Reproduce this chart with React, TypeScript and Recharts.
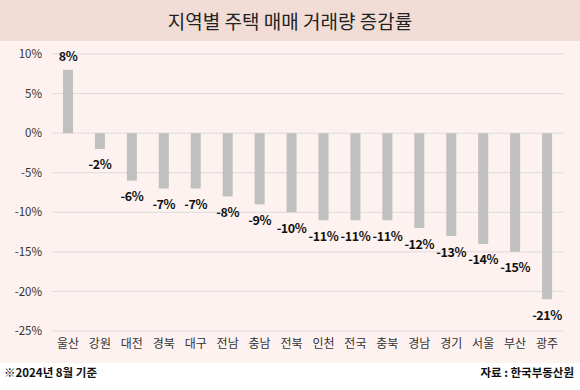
import React from "react";
import { BarChart, Bar, XAxis, YAxis, CartesianGrid, LabelList } from "recharts";

const regions = ["울산", "강원", "대전", "경북", "대구", "전남", "충남", "전북", "인천", "전국", "충북", "경남", "경기", "서울", "부산", "광주"];
const changes = [8, -2, -6, -7, -7, -8, -9, -10, -11, -11, -11, -12, -13, -14, -15, -21];
const yTicks = [10, 5, 0, -5, -10, -15, -20, -25];

const data = regions.map((name, i) => ({ name, value: changes[i] }));

const FONT = "'Noto Sans CJK KR', 'Noto Sans', sans-serif";

const ValueLabel = (props: any) => {
  const { x, y, width, height, value } = props;
  const top = Math.min(y, y + height);
  const bottom = Math.max(y, y + height);
  const cy = value >= 0 ? top - 14 : bottom + 15;
  return (
    <text
      x={x + width / 2}
      y={cy}
      textAnchor="middle"
      dominantBaseline="central"
      fontSize={12.5}
      fontWeight={700}
      letterSpacing={-0.4}
      fill="#111"
      fontFamily={FONT}
    >
      {value}%
    </text>
  );
};

export default function App() {
  return (
    <div style={{ position: "absolute", left: 0, top: 0, width: 580, height: 390, background: "#fff", fontFamily: FONT }}>
      <div
        style={{
          height: 41,
          background: "#f2ddd6",
          color: "#222",
          fontSize: 19,
          lineHeight: "41px",
          textAlign: "center",
        }}
      >
        지역별 주택 매매 거래량 증감률
      </div>
      <div style={{ width: 580, height: 322, background: "#fdf2ef" }}>
        <BarChart width={580} height={322} data={data} margin={{ top: 13, right: 17, bottom: 2, left: 0 }}>
          <CartesianGrid vertical={false} stroke="#dcdcdc" />
          <XAxis
            dataKey="name"
            axisLine={false}
            tickLine={false}
            interval={0}
            height={30}
            tick={{ fill: "#333", fontSize: 12, fontFamily: FONT }}
          />
          <YAxis
            type="number"
            domain={[-25, 10]}
            ticks={yTicks}
            interval={0}
            width={52}
            axisLine={false}
            tickLine={false}
            tickSize={0}
            tickMargin={10}
            tickFormatter={(v: number) => `${v}%`}
            tick={{ fill: "#333", fontSize: 11.5, fontFamily: FONT }}
          />
          <Bar dataKey="value" fill="#c0c0c0" barSize={10} isAnimationActive={false}>
            <LabelList dataKey="value" content={ValueLabel} />
          </Bar>
        </BarChart>
      </div>
      <div style={{ position: "relative", height: 27, fontSize: 11.5, fontWeight: 700, color: "#111" }}>
        <span style={{ position: "absolute", left: 4, top: 1 }}>※2024년 8월 기준</span>
        <span style={{ position: "absolute", right: 6, top: 1 }}>자료 : 한국부동산원</span>
      </div>
    </div>
  );
}
